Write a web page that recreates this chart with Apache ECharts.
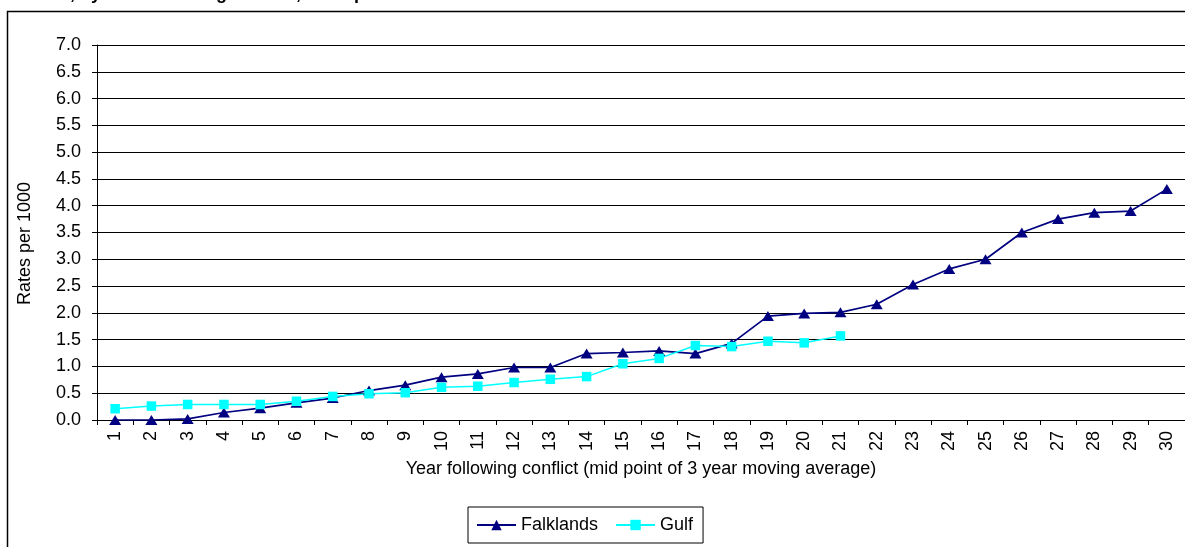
<!DOCTYPE html>
<html>
<head>
<meta charset="utf-8">
<script src="https://cdn.jsdelivr.net/npm/echarts@6/dist/echarts.min.js"></script>
<style>
html,body{margin:0;padding:0;background:#fff;}
#chart{width:1185px;height:547px;}
</style>
</head>
<body>
<div id="chart"></div>
<script>
const categories = ['1','2','3','4','5','6','7','8','9','10','11','12','13','14','15','16','17','18','19','20','21','22','23','24','25','26','27','28','29','30'];
const falklands = [0, 0, 0.02, 0.14, 0.22, 0.32, 0.41, 0.55, 0.65, 0.80, 0.86, 0.98, 0.98, 1.24, 1.26, 1.29, 1.24, 1.43, 1.94, 1.99, 2.01, 2.16, 2.53, 2.82, 3.00, 3.50, 3.75, 3.87, 3.90, 4.31];
const gulf = [0.21, 0.26, 0.29, 0.29, 0.29, 0.35, 0.44, 0.49, 0.51, 0.61, 0.63, 0.70, 0.76, 0.81, 1.05, 1.15, 1.39, 1.37, 1.47, 1.44, 1.57];
const yTicks = ['0.0','0.5','1.0','1.5','2.0','2.5','3.0','3.5','4.0','4.5','5.0','5.5','6.0','6.5','7.0'];
const titleText = 'Deaths, by time following conflict, rates per 1000';
const yAxisTitle = 'Rates per 1000';
const xAxisTitle = 'Year following conflict (mid point of 3 year moving average)';
const seriesNames = ['Falklands', 'Gulf'];

const FONT = '"Liberation Sans", Arial, sans-serif';
const FS = 18;
const chart = echarts.init(document.getElementById('chart'), null, {renderer: 'canvas'});
chart.setOption({
  backgroundColor: '#ffffff',
  animation: false,
  graphic: [
    {type: 'rect', shape: {x: 7.5, y: 11.5, width: 1250, height: 600}, style: {fill: 'none', stroke: '#000', lineWidth: 1.5}, silent: true},
    {type: 'text', x: 10, y: 3, style: {text: titleText, font: 'bold 18px ' + FONT, fill: '#000', verticalAlign: 'bottom'}, silent: true}
  ],
  grid: {left: 97, top: 45, right: -3, bottom: 127, containLabel: false},
  legend: {
    data: seriesNames,
    left: 468, top: 507,
    orient: 'horizontal',
    itemWidth: 39, itemHeight: 13, itemGap: 17,
    padding: [9, 10, 9, 8],
    borderColor: '#000', borderWidth: 1, backgroundColor: '#fff',
    textStyle: {fontFamily: FONT, fontSize: FS, color: '#000'}
  },
  xAxis: {
    type: 'category',
    data: categories,
    boundaryGap: true,
    name: xAxisTitle,
    nameLocation: 'middle',
    nameGap: 40,
    nameTextStyle: {fontFamily: FONT, fontSize: FS, color: '#000'},
    axisLine: {show: true, lineStyle: {color: '#000', width: 1}},
    axisTick: {show: true, length: 5, lineStyle: {color: '#000'}},
    axisLabel: {rotate: 90, margin: 11, fontFamily: FONT, fontSize: FS, color: '#000', interval: 0},
    splitLine: {show: false}
  },
  yAxis: {
    type: 'value',
    min: 0, max: 7, interval: 0.5,
    name: yAxisTitle,
    nameLocation: 'middle',
    nameGap: 63,
    nameRotate: 90,
    nameTextStyle: {fontFamily: FONT, fontSize: FS, color: '#000', padding: [0, 22, 0, 0]},
    axisLine: {show: true, lineStyle: {color: '#000', width: 1}},
    axisTick: {show: true, length: 5, lineStyle: {color: '#000'}},
    axisLabel: {margin: 16, fontFamily: FONT, fontSize: FS, color: '#000',
      formatter: function (v) { return yTicks[Math.round(v / 0.5)]; }},
    splitLine: {show: true, lineStyle: {color: '#000', width: 1}}
  },
  series: [
    {
      name: seriesNames[0], type: 'line', data: falklands,
      symbol: 'triangle', symbolSize: [12, 10],
      lineStyle: {color: '#000080', width: 1.7},
      itemStyle: {color: '#000080'}
    },
    {
      name: seriesNames[1], type: 'line', data: gulf,
      symbol: 'rect', symbolSize: 9.5,
      lineStyle: {color: '#00FFFF', width: 1.5},
      itemStyle: {color: '#00FFFF'}
    }
  ]
});
</script>
</body>
</html>
